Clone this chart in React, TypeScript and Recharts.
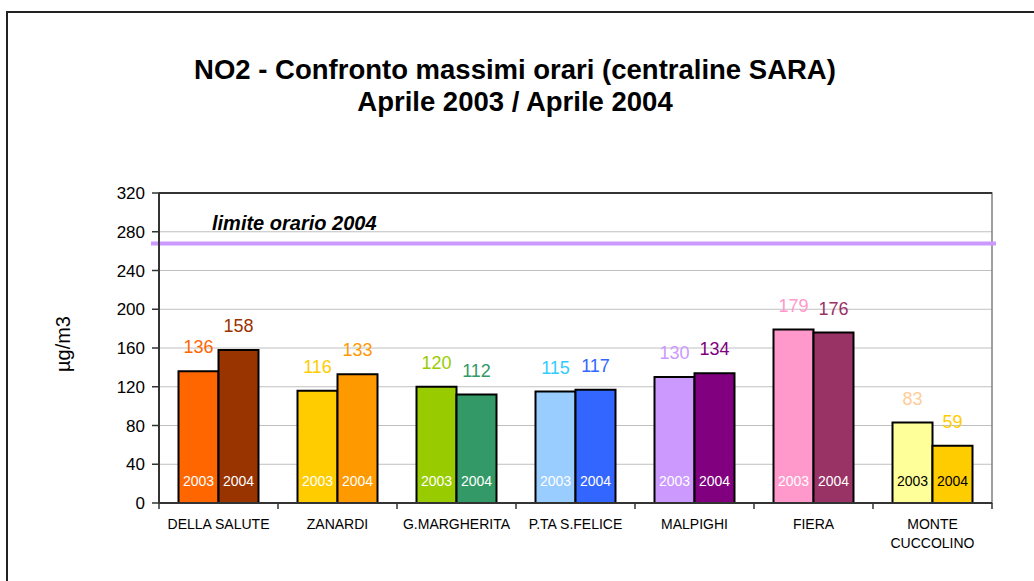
import { Bar, BarChart, CartesianGrid, Cell, LabelList, ReferenceArea, ReferenceLine, Text, XAxis, YAxis } from "recharts"

const STATIONS = ["DELLA SALUTE", "ZANARDI", "G.MARGHERITA", "P.TA S.FELICE", "MALPIGHI", "FIERA", "MONTE CUCCOLINO"]
const MAX_2003 = [136, 116, 120, 115, 130, 179, 83]
const MAX_2004 = [158, 133, 112, 117, 134, 176, 59]
const YEARS = ["2003", "2004"]
const LIMIT_2004 = 268
const Y_TICKS = [0, 40, 80, 120, 160, 200, 240, 280, 320]

const TITLE = ["NO2 - Confronto massimi orari (centraline SARA)", "Aprile 2003 / Aprile 2004"]
const LIMIT_LABEL = "limite orario 2004"
const UNIT = "µg/m3"

// colori per stazione
const FILL_2003 = ["#ff6600", "#ffcc00", "#99cc00", "#99ccff", "#cc99ff", "#ff99cc", "#ffff99"]
const FILL_2004 = ["#993300", "#ff9900", "#339966", "#3366ff", "#800080", "#993366", "#ffcc00"]
const VALUE_COLOR_2003 = ["#ff6600", "#ffcc00", "#99cc00", "#33ccff", "#cc99ff", "#ff99cc", "#ffcc99"]
const VALUE_COLOR_2004 = ["#993300", "#ff9900", "#339966", "#3366ff", "#800080", "#993366", "#ffcc00"]
const YEAR_COLOR = ["#ffffff", "#ffffff", "#ffffff", "#ffffff", "#ffffff", "#ffffff", "#000000"]

const data = STATIONS.map((name, i) => ({ name, y2003: MAX_2003[i], y2004: MAX_2004[i] }))

const FONT = "'Liberation Sans', Arial, sans-serif"

const valueLabel = (colors: string[]) => (props: any) => {
    const { x, y, width, value, index } = props
    return (
        <text x={Number(x) + Number(width) / 2} y={Number(y) - 18} textAnchor="middle" fill={colors[index]} fontSize={18} fontFamily={FONT}>
            {value}
        </text>
    )
}

const yearLabel = (year: string) => (props: any) => {
    const { x, y, width, height, index } = props
    return (
        <text x={Number(x) + Number(width) / 2} y={Number(y) + Number(height) - 17} textAnchor="middle" fill={YEAR_COLOR[index]} fontSize={14} fontFamily={FONT}>
            {year}
        </text>
    )
}

function StationTick(props: any) {
    const { x, y, payload, index } = props
    const half = payload?.offset ?? 59.5
    return (
        <g>
            <line x1={x - half} y1={y} x2={x - half} y2={y + 6} stroke="#333" strokeWidth={1.5} />
            {index === STATIONS.length - 1 && <line x1={x + half} y1={y} x2={x + half} y2={y + 6} stroke="#333" strokeWidth={1.5} />}
            <Text x={x} y={y + 16} width={128} textAnchor="middle" verticalAnchor="start" lineHeight={19} fontSize={14} fill="#000" fontFamily={FONT}>
                {payload.value}
            </Text>
        </g>
    )
}

function LimitLine(props: any) {
    const { x1, y1, x2, y2 } = props
    return <line x1={x1 - 8} y1={y1} x2={x2 + 4} y2={y2} stroke="#cc99ff" strokeWidth={4} />
}

export default function App() {
    return (
        <div style={{ position: "relative", width: 1034, height: 581, overflow: "hidden", fontFamily: FONT, background: "#fff" }}>
            <style>{"body{margin:0;overflow:hidden}"}</style>
            <div style={{ position: "absolute", left: 6, top: 11, width: 2000, height: 2000, borderLeft: "2px solid #222", borderTop: "2px solid #222" }} />
            <BarChart
                width={1034}
                height={581}
                data={data}
                margin={{ top: 193, right: 42, bottom: 18, left: 0 }}
                barCategoryGap={19.5}
                barGap={0}
                style={{ position: "absolute", left: 0, top: 0 }}
            >
                <CartesianGrid vertical={false} stroke="#c0c0c0" />
                <ReferenceArea y1={0} y2={320} fill="none" stroke="#808080" strokeWidth={1.5} />
                <XAxis
                    dataKey="name"
                    height={60}
                    interval={0}
                    tickLine={false}
                    tickSize={0}
                    tickMargin={0}
                    axisLine={{ stroke: "#333", strokeWidth: 2 }}
                    tick={<StationTick />}
                />
                <YAxis
                    width={159}
                    domain={[0, 320]}
                    ticks={Y_TICKS}
                    interval={0}
                    tickSize={7}
                    tickMargin={7}
                    tick={{ fill: "#000", fontSize: 17, fontFamily: FONT }}
                    tickLine={{ stroke: "#333", strokeWidth: 1.5 }}
                    axisLine={{ stroke: "#333", strokeWidth: 2 }}
                    label={{
                        value: UNIT,
                        content: (p: any) => {
                            const vb = p.viewBox
                            const cy = vb.y + vb.height / 2 - 4
                            return (
                                <text x={70} y={cy} transform={`rotate(-90, 70, ${cy})`} textAnchor="middle" fontSize={20} fill="#000" fontFamily={FONT}>
                                    {UNIT}
                                </text>
                            )
                        },
                    }}
                />
                <ReferenceLine y={320} stroke="#333" strokeWidth={2} />
                <Bar dataKey="y2003" stroke="#000" strokeWidth={2} isAnimationActive={false}>
                    {data.map((d, i) => (
                        <Cell key={d.name} fill={FILL_2003[i]} />
                    ))}
                    <LabelList dataKey="y2003" content={valueLabel(VALUE_COLOR_2003)} />
                    <LabelList dataKey="y2003" content={yearLabel(YEARS[0])} />
                </Bar>
                <Bar dataKey="y2004" stroke="#000" strokeWidth={2} isAnimationActive={false}>
                    {data.map((d, i) => (
                        <Cell key={d.name} fill={FILL_2004[i]} />
                    ))}
                    <LabelList dataKey="y2004" content={valueLabel(VALUE_COLOR_2004)} />
                    <LabelList dataKey="y2004" content={yearLabel(YEARS[1])} />
                </Bar>
                <ReferenceLine
                    y={LIMIT_2004}
                    shape={<LimitLine />}
                    label={{
                        value: LIMIT_LABEL,
                        content: (p: any) => (
                            <text x={p.viewBox.x + 53} y={p.viewBox.y - 13} fontSize={20} fontWeight="bold" fontStyle="italic" fill="#000" fontFamily={FONT}>
                                {LIMIT_LABEL}
                            </text>
                        ),
                    }}
                />
            </BarChart>
            <div style={{ position: "absolute", left: 0, top: 54, width: 1030, textAlign: "center", fontSize: 27.5, fontWeight: "bold", lineHeight: "32px", color: "#000" }}>
                {TITLE.map((t) => (
                    <div key={t}>{t}</div>
                ))}
            </div>
        </div>
    )
}
